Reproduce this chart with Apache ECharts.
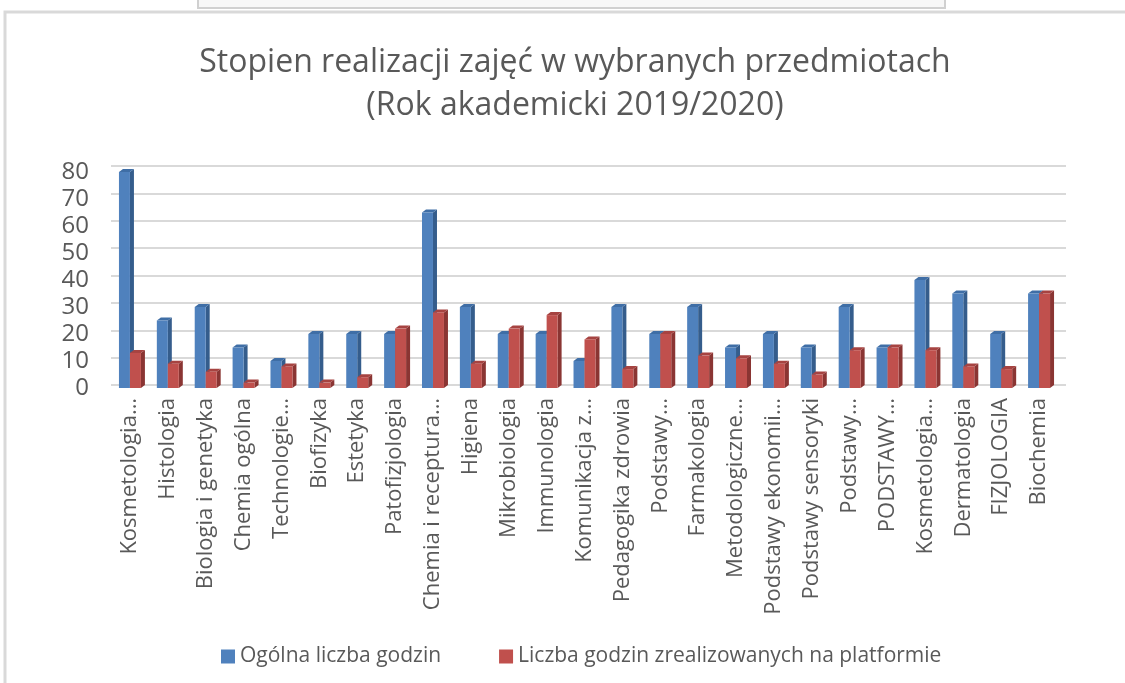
<!DOCTYPE html>
<html lang="pl">
	<head>
		<meta charset="UTF-8" />
		<title>Stopien realizacji zajęć</title>
		<script src="https://cdn.jsdelivr.net/npm/echarts@6/dist/echarts.min.js"></script>
		<style>
			html, body { margin: 0; padding: 0; background: #fff; }
			#chart { width: 1125px; height: 683px; }
		</style>
	</head>
	<body>
		<div id="chart"></div>
		<script>
			const subjects = [
				'Kosmetologia…', 'Histologia', 'Biologia i genetyka', 'Chemia ogólna', 'Technologie…',
				'Biofizyka', 'Estetyka', 'Patofizjologia', 'Chemia i receptura…', 'Higiena',
				'Mikrobiologia', 'Immunologia', 'Komunikacja z…', 'Pedagogika zdrowia', 'Podstawy…',
				'Farmakologia', 'Metodologiczne…', 'Podstawy ekonomii…', 'Podstawy sensoryki', 'Podstawy…',
				'PODSTAWY…', 'Kosmetologia…', 'Dermatologia', 'FIZJOLOGIA', 'Biochemia'
			]
			const totalHours = [80, 25, 30, 15, 10, 20, 20, 20, 65, 30, 20, 20, 10, 30, 20, 30, 15, 20, 15, 30, 15, 40, 35, 20, 35]
			const platformHours = [13, 9, 6, 2, 8, 2, 4, 22, 28, 9, 22, 27, 18, 7, 20, 12, 11, 9, 5, 14, 15, 14, 8, 7, 35]
			const seriesNames = ['Ogólna liczba godzin', 'Liczba godzin zrealizowanych na platformie']
			const yTicks = { min: 0, max: 80, interval: 10 }

			const textColor = '#595959'
			const font = 'Open Sans'
			const palette = [
				{ front: '#4f81bd', side: '#355d8c', top: '#3f6ea6' },
				{ front: '#c0504d', side: '#8a3533', top: '#a64341' }
			]

			// front face + darker side + top, a poor man's excel 3D column
			function bar3d(slot) {
				const c = palette[slot]
				return function (params, api) {
					const i = api.value(0)
					const base = api.coord([i, 0])
					const top = api.coord([i, api.value(1)])
					const band = api.size([1, 0])[0]
					const w = band * 0.29
					const d = 4
					const dy = 3
					const x0 = base[0] - w + slot * w
					const x1 = x0 + w
					return {
						type: 'group',
						children: [
							{
								type: 'polygon',
								shape: { points: [[x1, top[1]], [x1 + d, top[1] - dy], [x1 + d, base[1] - dy], [x1, base[1]]] },
								style: { fill: c.side }
							},
							{
								type: 'polygon',
								shape: { points: [[x0, top[1]], [x0 + d, top[1] - dy], [x1 + d, top[1] - dy], [x1, top[1]]] },
								style: { fill: c.top }
							},
							{
								type: 'rect',
								shape: { x: x0, y: top[1], width: w, height: base[1] - top[1] },
								style: { fill: c.front }
							}
						]
					}
				}
			}

			const chart = echarts.init(document.getElementById('chart'), null, { renderer: 'canvas' })

			const option = {
				backgroundColor: '#fff',
				animation: false,
				textStyle: { fontFamily: font },
				graphic: [
					{
						type: 'rect',
						shape: { x: 198, y: -6, width: 747, height: 14 },
						style: { fill: '#f7f7f7', stroke: '#d0d0d0', lineWidth: 2 }
					},
					{
						type: 'rect',
						shape: { x: 5, y: 12, width: 1200, height: 800 },
						style: { fill: 'none', stroke: '#d9d9d9', lineWidth: 3 }
					}
				],
				title: {
					text: 'Stopien realizacji zajęć w wybranych przedmiotach\n(Rok akademicki 2019/2020)',
					left: 570,
					textAlign: 'center',
					top: 36,
					textStyle: { fontFamily: font, fontSize: 32, fontWeight: 'normal', color: textColor, lineHeight: 43 }
				},
				legend: {
					left: 216,
					top: 641,
					itemGap: 58,
					itemWidth: 14,
					itemHeight: 14,
					icon: 'rect',
					textStyle: { fontFamily: font, fontSize: 21, color: textColor },
					data: seriesNames
				},
				grid: [
					{ left: 111, right: 67, top: 172, bottom: 295 },
					{ left: 111, right: 59, top: 166, bottom: 298 }
				],
				xAxis: [
					{
						type: 'category',
						gridIndex: 0,
						data: subjects,
						axisLine: { show: false },
						axisTick: { show: false },
						axisLabel: {
							interval: 0,
							rotate: 90,
							margin: 10,
							fontFamily: font,
							fontSize: 22,
							color: textColor
						}
					},
					{ type: 'category', gridIndex: 1, data: subjects, show: false }
				],
				yAxis: [
					{
						type: 'value',
						gridIndex: 0,
						min: yTicks.min,
						max: yTicks.max,
						interval: yTicks.interval,
						splitLine: { show: false },
						axisLine: { show: false },
						axisTick: { show: false },
						axisLabel: { margin: 22, padding: [6, 0, 0, 0], fontFamily: font, fontSize: 24, color: textColor }
					},
					{
						type: 'value',
						gridIndex: 1,
						min: yTicks.min,
						max: yTicks.max,
						interval: yTicks.interval,
						axisLabel: { show: false },
						axisLine: { show: false },
						axisTick: { show: false },
						splitLine: { lineStyle: { color: '#d9d9d9', width: 2 } }
					}
				],
				series: [
					{
						name: seriesNames[0],
						type: 'custom',
						xAxisIndex: 0,
						yAxisIndex: 0,
						itemStyle: { color: palette[0].front },
						encode: { x: 0, y: 1 },
						renderItem: bar3d(0),
						data: totalHours.map((v, i) => [i, v])
					},
					{
						name: seriesNames[1],
						type: 'custom',
						xAxisIndex: 0,
						yAxisIndex: 0,
						itemStyle: { color: palette[1].front },
						encode: { x: 0, y: 1 },
						renderItem: bar3d(1),
						data: platformHours.map((v, i) => [i, v])
					}
				]
			}
			chart.setOption(option)
		</script>
	</body>
</html>
